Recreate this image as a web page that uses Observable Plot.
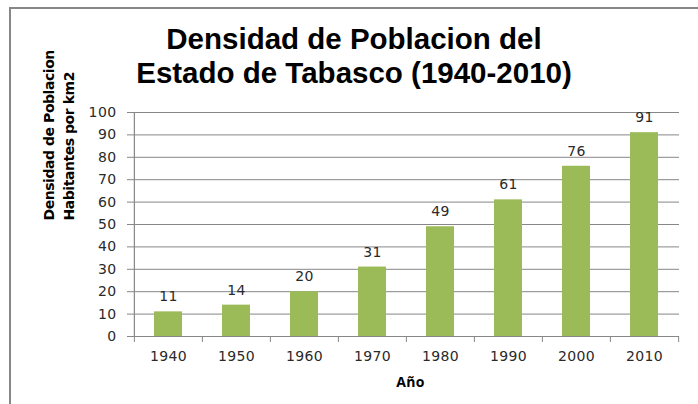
<!DOCTYPE html>
<html>
<head>
<meta charset="utf-8">
<script src="https://cdn.jsdelivr.net/npm/d3@7"></script>
<script src="https://cdn.jsdelivr.net/npm/@observablehq/plot@0.6"></script>
<style>
  html, body { margin: 0; padding: 0; background: #fff; width: 698px; height: 404px; overflow: hidden; }
  #wrap { position: relative; width: 698px; height: 404px; }
  #border { position: absolute; left: 9px; top: 7px; width: 720px; height: 420px; border-left: 2px solid #878787; border-top: 2px solid #878787; }
  #title { position: absolute; left: 0; top: 22px; width: 708px; text-align: center; font-family: "Liberation Sans", Arial, sans-serif; font-weight: bold; font-size: 29.5px; line-height: 34px; color: #000; }
  #chart { position: absolute; left: 0; top: 0; }
  #chart svg text { letter-spacing: 0.4px; }
  #chart svg g.ytitle text { letter-spacing: -0.45px; }
</style>
</head>
<body>
<div id="wrap">
  <div id="border"></div>
  <div id="chart"></div>
  <div id="title">Densidad de Poblacion del<br>Estado de Tabasco (1940-2010)</div>
</div>
<script>
const years = ["1940", "1950", "1960", "1970", "1980", "1990", "2000", "2010"];
const density = [11, 14, 20, 31, 49, 61, 76, 91];
const yTicks = [0, 10, 20, 30, 40, 50, 60, 70, 80, 90, 100];
const yTitle = "Densidad de Poblacion\nHabitantes por km2";
const xTitle = "Año";

const data = years.map((y, i) => ({year: y, value: density[i]}));

const W = 698, H = 404, mL = 133, mR = 19, mT = 112, mB = 68;
const half = (W - mL - mR) / years.length / 2;
const gray = "#878787";
const green = "#9BBB59";

const chart = Plot.plot({
  width: W, height: H,
  marginLeft: mL, marginRight: mR, marginTop: mT, marginBottom: mB,
  style: {fontFamily: "DejaVu Sans, sans-serif", fontSize: "14px", color: "#2a2a2a", background: "transparent", overflow: "visible"},
  x: {type: "band", domain: years, paddingInner: 0.59, paddingOuter: 0.295, label: null},
  y: {domain: [0, 100], label: null},
  marks: [
    Plot.gridY(yTicks, {stroke: gray, strokeOpacity: 1, strokeWidth: 1}),
    Plot.axisY(yTicks, {tickSize: 6, tickPadding: 11, stroke: gray, strokeOpacity: 1, fill: "#2a2a2a", fontSize: 14, label: null}),
    Plot.axisX({tickSize: 0, tickPadding: 15, fill: "#2a2a2a", fontSize: 14, label: null}),
    Plot.barY(data, {x: "year", y: "value", fill: green}),
    Plot.ruleY([0], {stroke: gray, strokeWidth: 1.2}),
    Plot.ruleX([years[0]], {x: d => d, y1: 0, y2: 100, dx: -half, stroke: gray, strokeWidth: 1.2}),
    Plot.ruleX(years, {x: d => d, y1: 0, y2: 0, dx: -half, insetBottom: -6, stroke: gray}),
    Plot.ruleX([years[years.length - 1]], {x: d => d, y1: 0, y2: 0, dx: half, insetBottom: -6, stroke: gray}),
    Plot.text(data, {x: "year", y: "value", text: d => String(d.value), dy: -15, lineAnchor: "middle", fill: "#2a2a2a", fontSize: 14}),
    Plot.text([yTitle], {frameAnchor: "left", rotate: -90, dx: -76, dy: -4, text: d => d, fontFamily: "DejaVu Sans, sans-serif", fontWeight: "bold", fontSize: 14, lineHeight: 1.45, fill: "#000", lineAnchor: "middle"}),
    Plot.text([xTitle], {frameAnchor: "bottom", dy: 46, text: d => d, fontWeight: "bold", fontSize: 14, fill: "#000", fontFamily: "Open Sans, sans-serif", lineAnchor: "middle", dx: 4})
  ]
});
chart.querySelectorAll("text").forEach(t => {
  if (t.textContent.startsWith("Densidad")) {
    const g = t.closest("g");
    g.setAttribute("class", ((g.getAttribute("class") || "") + " ytitle").trim());
  }
});
document.getElementById("chart").appendChild(chart);
</script>
</body>
</html>
